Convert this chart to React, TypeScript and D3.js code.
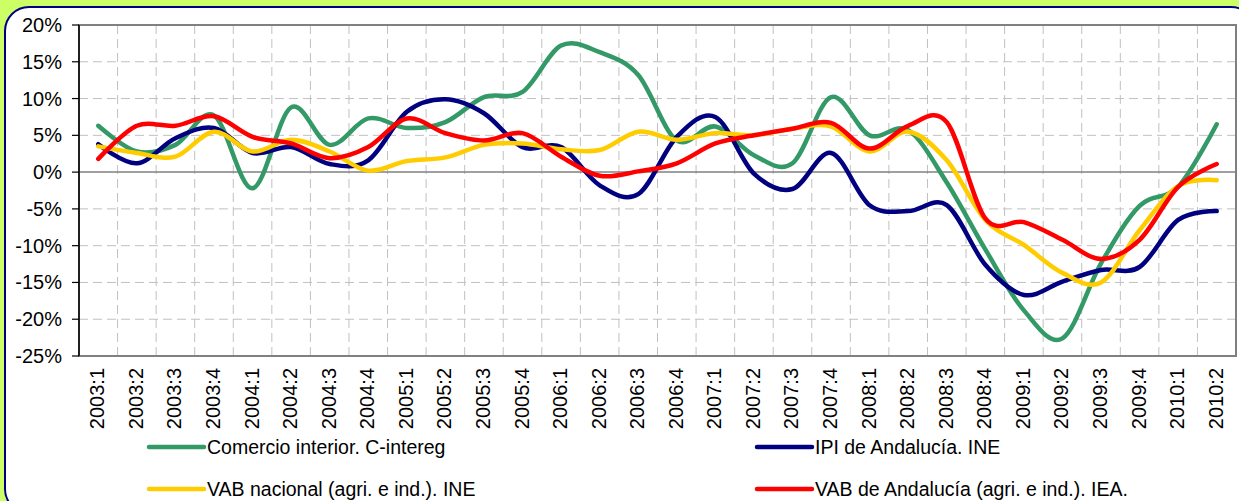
import React from "react";
import * as d3 from "d3";

const width = 1239;
const height = 501;
const marginLeft = 79;
const marginRight = 3;
const marginTop = 25;
const plotBottom = 356;

const quarters = [
  "2003:1", "2003:2", "2003:3", "2003:4",
  "2004:1", "2004:2", "2004:3", "2004:4",
  "2005:1", "2005:2", "2005:3", "2005:4",
  "2006:1", "2006:2", "2006:3", "2006:4",
  "2007:1", "2007:2", "2007:3", "2007:4",
  "2008:1", "2008:2", "2008:3", "2008:4",
  "2009:1", "2009:2", "2009:3", "2009:4",
  "2010:1", "2010:2",
];

const yTicks = [20, 15, 10, 5, 0, -5, -10, -15, -20, -25];

// tasas de variación interanual (%)
const comercio = [
  6.3, 2.8, 3.7, 7.7, -2.2, 8.8, 3.7, 7.3, 6.0, 6.8,
  10.2, 10.9, 17.2, 16.3, 13.2, 4.3, 6.2, 2.3, 1.2, 10.2,
  5.0, 5.7, -1.4, -10.5, -18.8, -22.6, -12.4, -4.6, -2.0, 6.5,
];
const ipi = [
  3.8, 1.2, 4.6, 6.0, 2.6, 3.4, 1.1, 1.6, 8.2, 9.9,
  8.0, 3.4, 3.4, -1.8, -3.0, 4.8, 7.5, -0.2, -2.3, 2.6,
  -4.5, -5.3, -4.5, -12.6, -16.7, -14.9, -13.3, -12.9, -6.5, -5.3,
];
const vabNacional = [
  3.5, 2.6, 2.1, 5.5, 2.8, 4.4, 2.8, 0.2, 1.5, 2.0,
  3.7, 3.9, 3.1, 3.0, 5.5, 4.4, 5.3, 5.0, 5.9, 6.2,
  2.8, 5.5, 1.6, -6.5, -9.9, -13.7, -15.0, -7.9, -1.9, -1.1,
];
const vabAndalucia = [
  1.8, 6.3, 6.3, 7.6, 4.8, 3.9, 1.9, 3.4, 7.3, 5.3,
  4.3, 5.3, 2.1, -0.5, 0.1, 1.2, 3.9, 5.0, 5.9, 6.7,
  3.2, 6.3, 6.8, -6.3, -6.8, -9.2, -11.8, -9.2, -2.0, 1.1,
];

const series = [
  { name: "Comercio interior. C-intereg", values: comercio, color: "#339966" },
  { name: "IPI de Andalucía. INE", values: ipi, color: "#000080" },
  { name: "VAB nacional (agri. e ind.). INE", values: vabNacional, color: "#FFCC00" },
  { name: "VAB de Andalucía (agri. e ind.). IEA.", values: vabAndalucia, color: "#FF0000" },
];

const font = "Arial, 'Liberation Sans', sans-serif";

export default function App() {
  const xScale = d3
    .scaleBand<string>()
    .domain(quarters)
    .range([marginLeft, width - marginRight]);

  const yScale = d3.scaleLinear().domain([-25, 20]).range([plotBottom, marginTop]);

  const cx = (i: number) => (xScale(quarters[i]) ?? 0) + xScale.bandwidth() / 2;

  const line = d3
    .line<number>()
    .x((_, i) => cx(i))
    .y((d) => yScale(d))
    .curve(d3.curveCatmullRom.alpha(0));

  const plotRight = width - marginRight;

  return (
    <svg
      width={width}
      height={height}
      style={{ position: "absolute", left: 0, top: 0, display: "block" }}
      fontFamily={font}
    >
      <rect x={0} y={0} width={width} height={height} fill="#CCFF66" />
      <rect
        x={5}
        y={7}
        width={1250}
        height={506}
        rx={24}
        fill="#ffffff"
        stroke="#000080"
        strokeWidth={2}
      />

      {/* grid */}
      <g stroke="#C0C0C0" strokeWidth={1} strokeDasharray="9,5">
        {yTicks
          .filter((t) => t !== 0 && t !== 20 && t !== -25)
          .map((t) => (
            <line key={t} x1={marginLeft} x2={plotRight} y1={yScale(t)} y2={yScale(t)} />
          ))}
        {quarters.slice(1).map((q) => (
          <line
            key={q}
            x1={xScale(q)}
            x2={xScale(q)}
            y1={marginTop}
            y2={plotBottom}
          />
        ))}
      </g>

      {/* plot border */}
      <rect
        x={marginLeft}
        y={marginTop}
        width={plotRight - marginLeft}
        height={plotBottom - marginTop}
        fill="none"
        stroke="#808080"
        strokeWidth={2}
      />
      <line
        x1={marginLeft}
        x2={plotRight}
        y1={yScale(0)}
        y2={yScale(0)}
        stroke="#808080"
        strokeWidth={1.5}
      />
      <line
        x1={marginLeft}
        x2={marginLeft}
        y1={marginTop}
        y2={plotBottom}
        stroke="#000000"
        strokeWidth={1.5}
      />

      {/* y axis */}
      <g>
        {yTicks.map((t) => (
          <g key={t}>
            <line
              x1={marginLeft - 7}
              x2={marginLeft}
              y1={yScale(t)}
              y2={yScale(t)}
              stroke="#000"
              strokeWidth={1.2}
            />
            <text
              x={62}
              y={yScale(t)}
              dy="0.35em"
              textAnchor="end"
              fontSize={20}
              fill="#000"
            >
              {`${t}%`}
            </text>
          </g>
        ))}
      </g>

      {/* x axis labels */}
      <g>
        {quarters.map((q, i) => (
          <text
            key={q}
            transform={`translate(${cx(i) - 1},${plotBottom + 12}) rotate(-90)`}
            dy="0.35em"
            textAnchor="end"
            fontSize={20}
            fill="#000"
          >
            {q}
          </text>
        ))}
      </g>

      {/* series */}
      <g fill="none" strokeWidth={4.5} strokeLinejoin="round" strokeLinecap="round">
        {series.map((s) => (
          <path key={s.name} d={line(s.values) ?? ""} stroke={s.color} />
        ))}
      </g>

      {/* legend */}
      <g fontSize={19.5} fill="#000">
        {series.map((s, i) => {
          const lx = i % 2 === 0 ? 149 : 757;
          const ly = i < 2 ? 447 : 489;
          return (
            <g key={s.name}>
              <line
                x1={lx}
                x2={lx + 55}
                y1={ly}
                y2={ly}
                stroke={s.color}
                strokeWidth={4.5}
                strokeLinecap="round"
              />
              <text x={lx + 58} y={ly} dy="0.35em">
                {s.name}
              </text>
            </g>
          );
        })}
      </g>
    </svg>
  );
}
